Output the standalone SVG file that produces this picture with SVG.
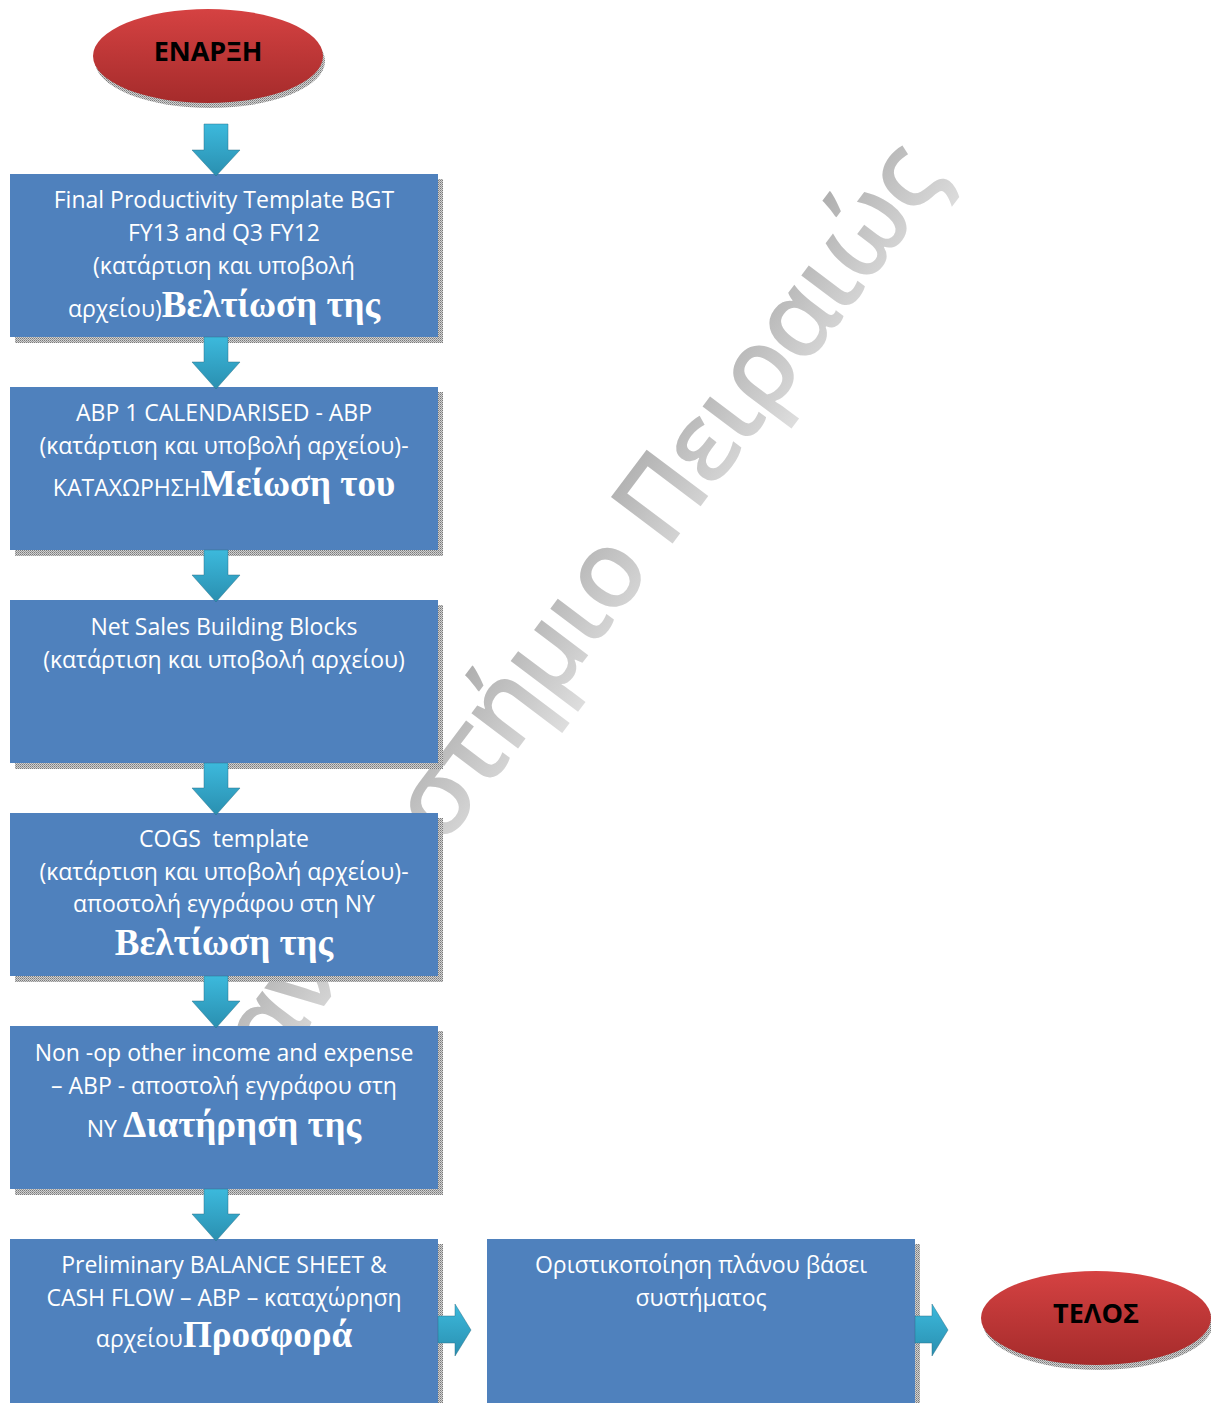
<svg xmlns="http://www.w3.org/2000/svg" width="1211" height="1403" viewBox="0 0 1211 1403">
<defs>
<style>
.box{fill:#4f81bd}
.shadow{fill:url(#dots)}
.t{font-family:"Open Sans","Noto Sans",sans-serif;font-size:23px;fill:#ffffff;text-anchor:middle}
.b{font-family:"Liberation Serif","DejaVu Serif",serif;font-weight:bold;font-size:37px}
.et{font-family:"Open Sans","Noto Sans",sans-serif;font-weight:bold;font-size:27px;fill:#000000;text-anchor:middle}
.arrow{fill:url(#ag);stroke:#2b6f86;stroke-width:0.8;stroke-opacity:0.6}
.wm{font-family:"Open Sans","Noto Sans",sans-serif;font-weight:600;font-size:108px;fill:url(#wg)}
</style>
<pattern id="dots" width="2" height="2" patternUnits="userSpaceOnUse">
<rect width="2" height="2" fill="#d0d0d0"/>
<rect width="1" height="1" fill="#7a7a7a"/>
<rect x="1" y="1" width="1" height="1" fill="#9a9a9a"/>
</pattern>
<linearGradient id="red" x1="0" y1="0" x2="0" y2="1">
<stop offset="0" stop-color="#d54242"/>
<stop offset="1" stop-color="#a52b2b"/>
</linearGradient>
<linearGradient id="ag" x1="0" y1="0" x2="0" y2="1">
<stop offset="0" stop-color="#3cb9dc"/>
<stop offset="1" stop-color="#2a8fb0"/>
</linearGradient>
<linearGradient id="wg" x1="0" y1="0" x2="0" y2="1">
<stop offset="0" stop-color="#a4a4a4"/>
<stop offset="1" stop-color="#e0e0e0"/>
</linearGradient>
</defs>
<rect width="1211" height="1403" fill="#ffffff"/>

<g id="watermark">
<text class="wm" transform="translate(226,1136) rotate(-53)" textLength="1200" lengthAdjust="spacing">Πανεπιστήμιο Πειραιώς</text>
</g>

<g id="start">
<ellipse cx="210" cy="61" rx="115" ry="47" class="shadow"/>
<ellipse cx="208" cy="56" rx="115" ry="47" fill="url(#red)"/>
<text class="et" x="208" y="61">ΕΝΑΡΞΗ</text>
</g>

<g id="box1">
<rect x="15" y="179" width="428" height="164" class="shadow"/>
<rect x="10" y="174" width="428" height="163" class="box"/>
<text class="t" x="224" y="208">Final Productivity Template BGT</text>
<text class="t" x="224" y="241">FY13 and Q3 FY12</text>
<text class="t" x="224" y="274">(κατάρτιση και υποβολή</text>
<text class="t" x="224" y="317">αρχείου)<tspan class="b">Βελτίωση της</tspan></text>
</g>

<g id="box2">
<rect x="15" y="392" width="428" height="164" class="shadow"/>
<rect x="10" y="387" width="428" height="163" class="box"/>
<text class="t" x="224" y="421">ABP 1 CALENDARISED - ABP</text>
<text class="t" x="224" y="454">(κατάρτιση και υποβολή αρχείου)-</text>
<text class="t" x="224" y="496">ΚΑΤΑΧΩΡΗΣΗ<tspan class="b">Μείωση του</tspan></text>
</g>

<g id="box3">
<rect x="15" y="605" width="428" height="164" class="shadow"/>
<rect x="10" y="600" width="428" height="163" class="box"/>
<text class="t" x="224" y="635">Net Sales Building Blocks</text>
<text class="t" x="224" y="668">(κατάρτιση και υποβολή αρχείου)</text>
</g>

<g id="box4">
<rect x="15" y="818" width="428" height="164" class="shadow"/>
<rect x="10" y="813" width="428" height="163" class="box"/>
<text class="t" x="224" y="847" xml:space="preserve">COGS  template</text>
<text class="t" x="224" y="880">(κατάρτιση και υποβολή αρχείου)-</text>
<text class="t" x="224" y="912">αποστολή εγγράφου στη NY</text>
<text class="t" x="224" y="955"><tspan class="b">Βελτίωση της</tspan></text>
</g>

<g id="box5">
<rect x="15" y="1031" width="428" height="164" class="shadow"/>
<rect x="10" y="1026" width="428" height="163" class="box"/>
<text class="t" x="224" y="1061">Non -op other income and expense</text>
<text class="t" x="224" y="1094">– ABP - αποστολή εγγράφου στη</text>
<text class="t" x="224" y="1137">NY <tspan class="b">Διατήρηση της</tspan></text>
</g>

<g id="box6">
<rect x="15" y="1244" width="428" height="164" class="shadow"/>
<rect x="10" y="1239" width="428" height="170" class="box"/>
<text class="t" x="224" y="1273">Preliminary BALANCE SHEET &amp;</text>
<text class="t" x="224" y="1306">CASH FLOW – ABP – καταχώρηση</text>
<text class="t" x="224" y="1347">αρχείου<tspan class="b">Προσφορά</tspan></text>
</g>

<g id="box7">
<rect x="492" y="1244" width="428" height="164" class="shadow"/>
<rect x="487" y="1239" width="428" height="170" class="box"/>
<text class="t" x="701" y="1273">Οριστικοποίηση πλάνου βάσει</text>
<text class="t" x="701" y="1306">συστήματος</text>
</g>

<g id="end">
<ellipse cx="1098" cy="1323" rx="115" ry="47" class="shadow"/>
<ellipse cx="1096" cy="1318" rx="115" ry="47" fill="url(#red)"/>
<text class="et" x="1096" y="1323">ΤΕΛΟΣ</text>
</g>

<g id="connectors">
<path class="arrow" d="M204,124 H228 V150 H240 L216,176 L192,150 H204 Z"/>
<path class="arrow" d="M204,337 H228 V362 H240 L216,389 L192,362 H204 Z"/>
<path class="arrow" d="M204,550 H228 V575 H240 L216,602 L192,575 H204 Z"/>
<path class="arrow" d="M204,763 H228 V788 H240 L216,815 L192,788 H204 Z"/>
<path class="arrow" d="M204,976 H228 V1001 H240 L216,1028 L192,1001 H204 Z"/>
<path class="arrow" d="M204,1189 H228 V1214 H240 L216,1241 L192,1214 H204 Z"/>
<path class="arrow" d="M438,1316 H455 V1304 L471,1330 L455,1356 V1343 H438 Z"/>
<path class="arrow" d="M915,1316 H932 V1304 L948,1330 L932,1356 V1343 H915 Z"/>
</g>
</svg>
